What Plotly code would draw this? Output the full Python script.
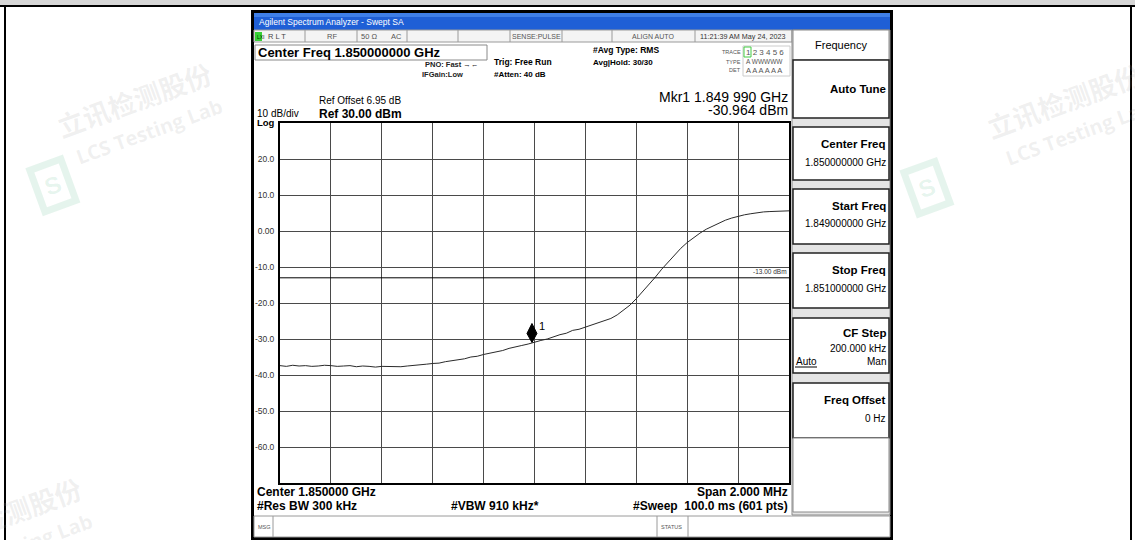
import plotly.graph_objects as go

W, H = 1135, 540
FONT = "Liberation Sans, Arial, sans-serif"

# ---------------- data ----------------
# frequency offset from centre, MHz (span 2 MHz, centre 1850 MHz)
freq_offset_mhz = [
    -1.000, -0.975, -0.950, -0.925, -0.900, -0.875, -0.850, -0.825, -0.800, -0.775,
    -0.750, -0.725, -0.700, -0.675, -0.650, -0.625, -0.600, -0.575, -0.550, -0.525,
    -0.500, -0.475, -0.450, -0.425, -0.400, -0.375, -0.350, -0.325, -0.300, -0.275,
    -0.250, -0.225, -0.200, -0.175, -0.150, -0.125, -0.100, -0.075, -0.050, -0.025,
    0.000, 0.025, 0.050, 0.075, 0.100, 0.125, 0.150, 0.175, 0.200, 0.225,
    0.250, 0.275, 0.300, 0.325, 0.350, 0.375, 0.400, 0.425, 0.450, 0.475,
    0.500, 0.525, 0.550, 0.575, 0.600, 0.625, 0.650, 0.675, 0.700, 0.725,
    0.750, 0.775, 0.800, 0.825, 0.850, 0.875, 0.900, 0.925, 0.950, 0.975, 1.000]
trace_dbm = [
    -37.4, -37.6, -37.3, -37.5, -37.4, -37.6, -37.5, -37.3, -37.4, -37.6,
    -37.5, -37.4, -37.7, -37.5, -37.6, -37.8, -37.6, -37.7, -37.6, -37.7,
    -37.5, -37.4, -37.3, -37.0, -36.8, -36.7, -36.3, -36.1, -35.7, -35.5,
    -35.0, -34.8, -34.3, -34.0, -33.5, -33.2, -32.6, -32.3, -31.8, -31.4,
    -30.8, -30.4, -30.0, -29.3, -28.8, -28.4, -27.6, -27.3, -26.7, -26.2,
    -25.6, -25.0, -24.3, -23.3, -22.0, -20.6, -18.8, -16.9, -14.8, -12.8,
    -10.6, -8.6, -6.6, -4.8, -3.2, -1.8, -0.6, 0.5, 1.4, 2.3,
    3.0, 3.6, 4.1, 4.5, 4.8, 5.1, 5.3, 5.4, 5.5, 5.6, 5.6]

marker_offset_mhz = -0.010
marker_dbm = -30.964
display_line_dbm = -13.0

y_ticks = [20, 10, 0, -10, -20, -30, -40, -50, -60]
y_tick_text = ["20.0", "10.0", "0.00", "-10.0", "-20.0", "-30.0", "-40.0", "-50.0", "-60.0"]

# ---------------- helpers ----------------
shapes = []
anns = []


def px(x):
    return x / W


def py(y):
    return 1 - y / H


def rect(x0, y0, x1, y1, fill=None, line=None, lw=1, layer="below"):
    shapes.append(dict(type="rect", xref="paper", yref="paper",
                       x0=px(x0), x1=px(x1), y0=py(y1), y1=py(y0),
                       fillcolor=fill if fill else "rgba(0,0,0,0)",
                       line=dict(color=line if line else "rgba(0,0,0,0)", width=lw if line else 0),
                       layer=layer))


def hline(x0, x1, y, color="#000", lw=1, layer="below"):
    shapes.append(dict(type="line", xref="paper", yref="paper",
                       x0=px(x0), x1=px(x1), y0=py(y), y1=py(y),
                       line=dict(color=color, width=lw), layer=layer))


def vline(x, y0, y1, color="#000", lw=1, layer="below"):
    shapes.append(dict(type="line", xref="paper", yref="paper",
                       x0=px(x), x1=px(x), y0=py(y0), y1=py(y1),
                       line=dict(color=color, width=lw), layer=layer))


def txt(x, y, s, size=9, bold=False, anchor="left", color="#000", family=FONT, angle=0):
    anns.append(dict(x=px(x), y=py(y), xref="paper", yref="paper",
                     text=("<b>" + s + "</b>") if bold else s,
                     showarrow=False, xanchor=anchor, yanchor="middle",
                     textangle=angle, borderpad=0,
                     font=dict(size=size, color=color, family=family)))


# ---------------- page frame ----------------
rect(0, 0, W, 5, fill="#d6d6d6")
hline(0, W, 6, color="#000", lw=2)
vline(5, 6, H, color="#000", lw=2)
vline(1131, 6, H, color="#000", lw=2)

# ---------------- watermarks ----------------
WM = "rgba(160,160,160,0.16)"
WMG = "rgba(0,150,80,0.10)"
CJK = "Noto Sans CJK SC"
for (dx, dy) in [(0, 0), (930, 2), (-130, 415)]:
    txt(134 + dx, 99 + dy, "<b>立讯检测股份</b>", size=27, color=WM, family=CJK, anchor="center", angle=-20)
    txt(149 + dx, 131 + dy, "<b>LCS Testing Lab</b>", size=20, color=WM, family="Open Sans, sans-serif", anchor="center", angle=-20)
    anns.append(dict(x=px(25 + dx), y=py(155 + dy), xref="paper", yref="paper",
                     text="<b>S</b>", showarrow=False, textangle=-20,
                     font=dict(size=24, color=WMG, family=FONT),
                     bordercolor=WMG, borderwidth=7, borderpad=5))

# ---------------- instrument screen ----------------
rect(251, 10, 893, H, fill="#000")
rect(254, 13, 890, 537, fill="#ffffff")
# title bar
rect(254, 13, 890, 30, fill="#1f5fd6")
rect(254, 13, 890, 17, fill="#3f7fe8")
txt(258, 22, "Agilent Spectrum Analyzer - Swept SA", size=8.5, color="#ffffff")
# status row
rect(254, 30, 792, 42, fill="#f4f4f4", line="#9a9a9a", lw=1)
for sx in [305, 357, 407, 458, 510, 562, 612, 695]:
    vline(sx, 30, 42, color="#9a9a9a")
rect(255, 32, 262, 41, fill="#36d136")
txt(255.5, 36.5, "LXI", size=5, color="#003300")
txt(267, 36.5, "R L T", size=7.5, color="#444")
txt(332, 36.5, "RF", size=7.5, color="#555", anchor="center")
txt(360, 36.5, "50 Ω", size=7.5, color="#555")
txt(390, 36.5, "AC", size=7.5, color="#555")
txt(536, 36.5, "SENSE:PULSE", size=7, color="#555", anchor="center")
txt(653, 36.5, "ALIGN AUTO", size=7, color="#555", anchor="center")
txt(742, 36.5, "11:21:39 AM May 24, 2023", size=7.2, color="#333", anchor="center")

# header texts
rect(255, 45, 487, 60, fill="#ffffff", line="#8a8a8a", lw=1)
txt(257, 52.5, "Center Freq 1.850000000 GHz", size=13, bold=True)
txt(424, 64.5, "PNO: Fast →←", size=7.5, bold=True, color="#222")
txt(421, 75, "IFGain:Low", size=7.5, bold=True, color="#222")
txt(493, 62, "Trig: Free Run", size=8.5, bold=True)
txt(493, 74, "#Atten: 40 dB", size=8, bold=True)
txt(592, 49.5, "#Avg Type: RMS", size=8.5, bold=True)
txt(592, 62, "Avg|Hold: 30/30", size=8, bold=True)
rect(743, 46, 790, 76, fill="#ffffff", line="#cccccc", lw=1)
rect(744, 47, 751, 57, fill="#ffffff", line="#44cc44", lw=1)
txt(742, 52, "TRACE", size=5.5, color="#555", anchor="right")
txt(745, 52, "1 2 3 4 5 6", size=8, color="#555")
txt(742, 61.5, "TYPE", size=5.5, color="#555", anchor="right")
txt(745, 61.5, "A WWWWW", size=6.5, color="#555")
txt(742, 70.5, "DET", size=5.5, color="#555", anchor="right")
txt(745, 70.5, "A A A A A A", size=7.5, color="#555")
txt(789, 97, "Mkr1 1.849 990 GHz", size=14, anchor="right")
txt(789, 110, "-30.964 dBm", size=14, anchor="right")
txt(318, 100.5, "Ref Offset 6.95 dB", size=10)
txt(318, 113.5, "Ref 30.00 dBm", size=12, bold=True)
txt(256, 113.5, "10 dB/div", size=10)
txt(256, 123, "Log", size=9.5, bold=True)

# bottom texts
txt(256, 492, "Center 1.850000 GHz", size=12, bold=True)
txt(789, 492, "Span 2.000 MHz", size=12, bold=True, anchor="right")
txt(256, 506, "#Res BW 300 kHz", size=12, bold=True)
txt(450, 506, "#VBW 910 kHz*", size=12, bold=True)
txt(789, 506, "#Sweep  100.0 ms (601 pts)", size=12, bold=True, anchor="right")
rect(254, 516, 890, 537, fill="#ffffff", line="#9a9a9a", lw=1)
vline(273, 516, 537, color="#9a9a9a")
vline(657, 516, 537, color="#9a9a9a")
vline(688, 516, 537, color="#9a9a9a")
txt(257, 526.5, "MSG", size=5.5, color="#555")
txt(660, 526.5, "STATUS", size=5.5, color="#555")

# softkey panel
rect(792, 30, 890, 515, fill="#e4e4e4", line="#8a8a8a", lw=1)
rect(793, 30, 889, 60, fill="#ffffff", line="#8a8a8a", lw=1)
txt(841, 45, "Frequency", size=11, anchor="center")
keys = [
    (60, 118, "Auto Tune", None),
    (127, 180, "Center Freq", "1.850000000 GHz"),
    (189, 244, "Start Freq", "1.849000000 GHz"),
    (253, 308, "Stop Freq", "1.851000000 GHz"),
    (318, 373, "CF Step", "200.000 kHz"),
    (383, 438, "Freq Offset", "0 Hz"),
]
for (k0, k1, label, val) in keys:
    rect(793, k0, 889, k1, fill="#ffffff", line="#222", lw=1.5)
    if val is None:
        txt(887, (k0 + k1) / 2, label, size=11.5, bold=True, anchor="right")
    elif label == "CF Step":
        txt(887, k0 + 15, label, size=11.5, bold=True, anchor="right")
        txt(887, k0 + 30, val, size=10, anchor="right")
        txt(795, k0 + 43, "Auto", size=10)
        hline(795, 817, k0 + 49, color="#000", lw=1)
        txt(887, k0 + 43, "Man", size=10, anchor="right")
    else:
        txt(887, k0 + 17, label, size=11.5, bold=True, anchor="right")
        txt(887, k0 + 35, val, size=10, anchor="right")
rect(793, 438, 889, 512, fill="#ffffff", line="#8a8a8a", lw=1)

# display line label
txt(788, 271, "-13.00 dBm", size=6.5, color="#333", anchor="right")

# ---------------- plot ----------------
fig = go.Figure()
fig.add_trace(go.Scatter(x=freq_offset_mhz, y=trace_dbm, mode="lines",
                         line=dict(color="#2a2a2a", width=1), hoverinfo="skip",
                         showlegend=False))

# display line (-13 dBm)
shapes.append(dict(type="line", xref="x", yref="y", x0=-1, x1=1,
                   y0=display_line_dbm, y1=display_line_dbm,
                   line=dict(color="#000", width=1), layer="above"))
# marker diamond
shapes.append(dict(type="path", xref="x", yref="y", xsizemode="pixel", ysizemode="pixel",
                   xanchor=marker_offset_mhz, yanchor=marker_dbm,
                   path="M 0 0 L 5 9 L 0 19 L -5 9 Z",
                   fillcolor="#000", line=dict(color="#000", width=1), layer="above"))
anns.append(dict(x=marker_offset_mhz, y=marker_dbm, xref="x", yref="y", text="1",
                 showarrow=False, xshift=10, yshift=16,
                 font=dict(size=11, color="#000", family=FONT)))

fig.update_layout(
    width=W, height=H,
    margin=dict(l=0, r=0, t=0, b=0),
    paper_bgcolor="#ffffff", plot_bgcolor="#ffffff",
    shapes=shapes, annotations=anns, showlegend=False,
    xaxis=dict(domain=[px(280), px(789)], range=[-1, 1], dtick=0.2, tick0=-1,
               showgrid=True, gridcolor="#4a4a4a", gridwidth=1,
               showticklabels=False, ticks="", zeroline=False,
               showline=True, linecolor="#000", linewidth=2, mirror=True, fixedrange=True),
    yaxis=dict(domain=[py(483), py(123)], range=[-70, 30],
               tickvals=y_ticks, ticktext=y_tick_text,
               showgrid=True, gridcolor="#4a4a4a", gridwidth=1,
               ticks="outside", ticklen=0, ticklabelstandoff=2,
               tickfont=dict(size=8.5, color="#333", family=FONT),
               zeroline=False, showline=True, linecolor="#000", linewidth=2, mirror=True,
               fixedrange=True),
)

fig.write_html("out.html", config={"displayModeBar": False},
               post_script="document.body.style.margin='0';document.body.style.overflow='hidden';")
